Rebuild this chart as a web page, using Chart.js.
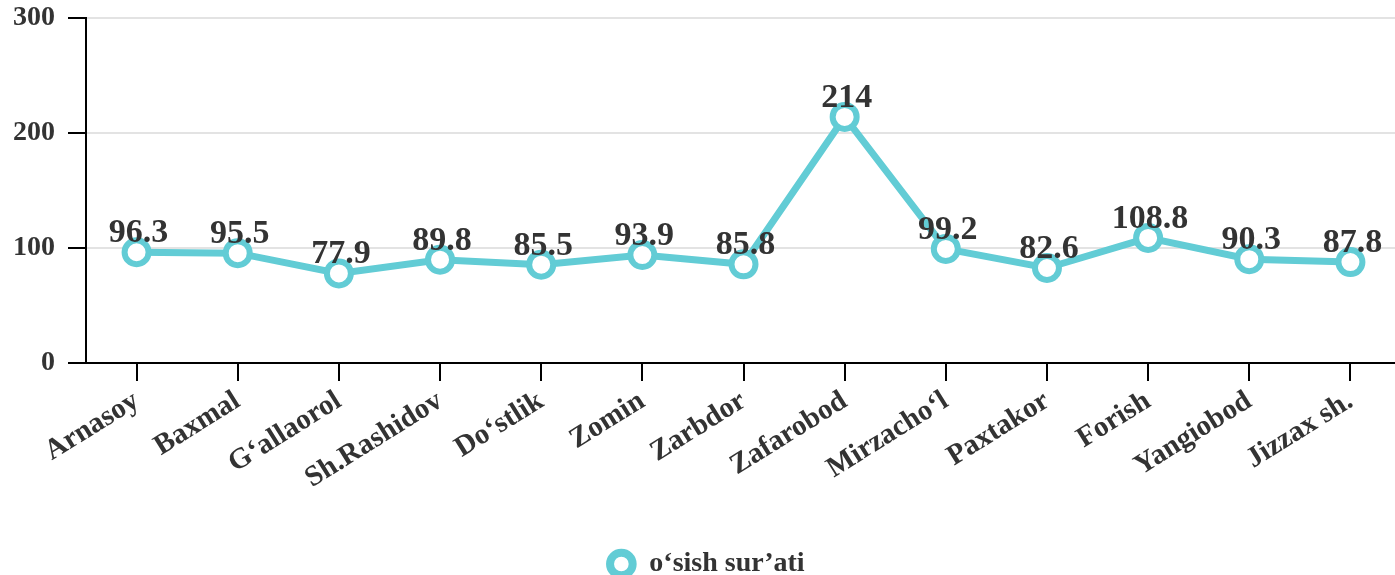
<!DOCTYPE html>
<html>
<head>
<meta charset="utf-8">
<script src="https://cdn.jsdelivr.net/npm/chart.js@4"></script>
<style>
  html, body { margin: 0; padding: 0; background: #fff; overflow: hidden; }
  /* the original chart is a bit larger than the window and gets cropped at right/bottom */
  #wrap { width: 1419px; height: 588px; position: relative; }
</style>
</head>
<body>
<div id="wrap"><canvas id="myChart"></canvas></div>
<script>
// data
const districts = ['Arnasoy', 'Baxmal', 'G‘allaorol', 'Sh.Rashidov', 'Do‘stlik', 'Zomin', 'Zarbdor',
  'Zafarobod', 'Mirzacho‘l', 'Paxtakor', 'Forish', 'Yangiobod', 'Jizzax sh.'];
const growth = [96.3, 95.5, 77.9, 89.8, 85.5, 93.9, 85.8, 214, 99.2, 82.6, 108.8, 90.3, 87.8];
const seriesName = 'o‘sish sur’ati';
const yTicks = [0, 100, 200, 300];

const teal = '#62ccd5';
const fontFamily = '"Liberation Serif", "Times New Roman", serif';

// simple value labels above points (no datalabels plugin available)
const valueLabels = {
  id: 'valueLabels',
  afterDatasetsDraw(chart) {
    const ctx = chart.ctx;
    ctx.save();
    ctx.font = 'bold 34px ' + fontFamily;
    ctx.fillStyle = '#333';
    ctx.textAlign = 'center';
    ctx.textBaseline = 'alphabetic';
    chart.getDatasetMeta(0).data.forEach((pt, i) => {
      ctx.fillText(String(chart.data.datasets[0].data[i]), pt.x + 2, pt.y - 10);
    });
    ctx.restore();
  }
};

const data = {
  labels: districts,
  datasets: [{
    label: seriesName,
    data: growth,
    borderColor: teal,
    backgroundColor: '#fff',
    borderWidth: 7,
    pointRadius: 12,
    pointBorderWidth: 6,
    pointBackgroundColor: '#fff',
    pointBorderColor: teal,
    tension: 0
  }]
};

const config = {
  type: 'line',
  data,
  options: {
    responsive: true,
    maintainAspectRatio: false,
    animation: false,
    layout: { padding: { top: 17, right: 0, left: -7, bottom: 0 } },
    plugins: {
      legend: {
        position: 'bottom',
        labels: {
          usePointStyle: true,
          pointStyle: 'circle',
          boxWidth: 28,
          boxHeight: 16,
          color: '#333',
          font: { family: fontFamily, size: 28, weight: 'bold' },
          padding: 10,
          generateLabels(chart) {
            const items = Chart.defaults.plugins.legend.labels.generateLabels(chart);
            items.forEach(it => { it.lineWidth = 8; it.fillStyle = '#fff'; it.strokeStyle = teal; });
            return items;
          }
        }
      },
      tooltip: { enabled: false }
    },
    scales: {
      x: {
        offset: true,
        afterFit(scale) {
          scale.paddingLeft = 0;
          scale.paddingRight = 0;
          scale.height = 177;
        },
        grid: { drawOnChartArea: false, tickColor: '#000', tickLength: 18, lineWidth: 2 },
        border: { color: '#000', width: 2 },
        ticks: {
          color: '#333',
          font: { family: fontFamily, size: 29, weight: 'bold' },
          minRotation: 32,
          maxRotation: 32,
          autoSkip: false
        }
      },
      y: {
        min: 0,
        max: 300,
        afterBuildTicks(axis) { axis.ticks = yTicks.map(v => ({ value: v })); },
        afterFit(scale) {
          scale.width = 93;
          scale.paddingTop = 0;
          scale.paddingBottom = 0;
        },
        grid: { color: '#e3e3e3', tickColor: '#000', tickLength: 18, lineWidth: 2 },
        border: { color: '#000', width: 2 },
        ticks: {
          color: '#333',
          padding: 13,
          font: { family: fontFamily, size: 28, weight: 'bold' }
        }
      }
    }
  },
  plugins: [valueLabels]
};

const myChart = new Chart(document.getElementById('myChart'), config);
</script>
</body>
</html>
